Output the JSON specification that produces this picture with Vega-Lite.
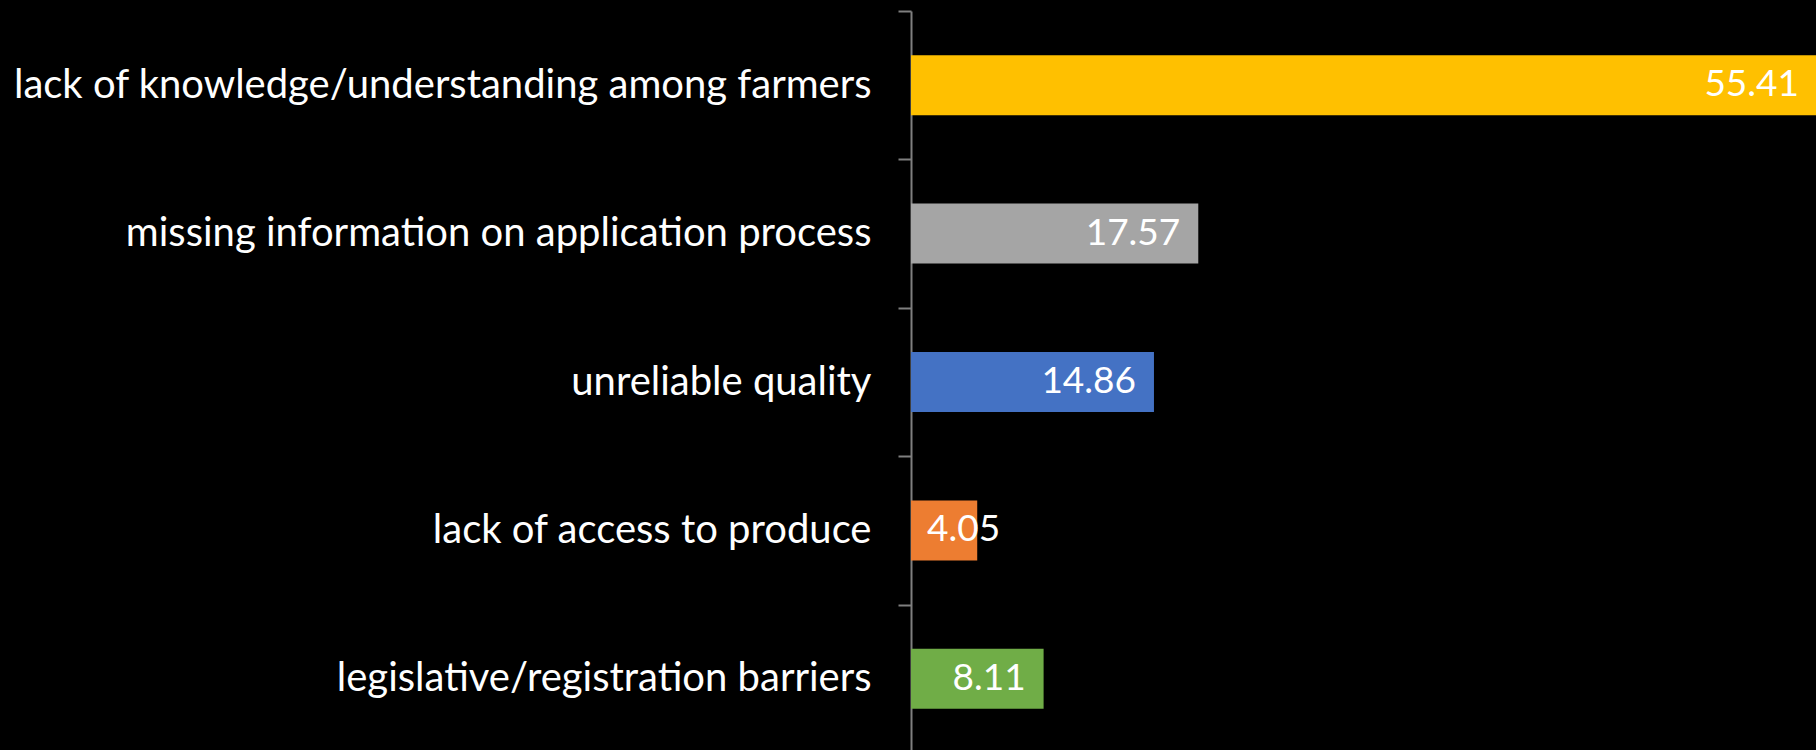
{
  "$schema": "https://vega.github.io/schema/vega-lite/v6.json",
  "width": 905,
  "height": 742,
  "autosize": {"type": "none"},
  "padding": {"left": 911, "top": 11, "right": 0, "bottom": 0},
  "background": "#000000",
  "config": {"view": {"stroke": null}},
  "data": {
    "values": [
      {"reason": "lack of knowledge/understanding among farmers", "value": 55.41, "color": "#FFC000"},
      {"reason": "missing information on application process", "value": 17.57, "color": "#A5A5A5"},
      {"reason": "unreliable quality", "value": 14.86, "color": "#4472C4"},
      {"reason": "lack of access to produce", "value": 4.05, "color": "#ED7D31"},
      {"reason": "legislative/registration barriers", "value": 8.11, "color": "#70AD47"}
    ]
  },
  "encoding": {
    "y": {
      "field": "reason",
      "type": "nominal",
      "sort": null,
      "scale": {"paddingInner": 0, "paddingOuter": 0},
      "axis": {
        "title": null,
        "tickBand": "extent",
        "tickSize": 13,
        "tickColor": "#7f7f7f",
        "tickWidth": 2,
        "domainColor": "#7f7f7f",
        "domainWidth": 2,
        "labelColor": "#ffffff",
        "labelFont": "Lato",
        "labelFontSize": 40,
        "labelPadding": 27,
        "labelLimit": 1000
      }
    },
    "x": {
      "field": "value",
      "type": "quantitative",
      "scale": {"domain": [0, 55.35], "nice": false},
      "axis": null
    }
  },
  "layer": [
    {
      "mark": {"type": "bar", "height": {"band": 0.404}},
      "encoding": {"color": {"field": "color", "type": "nominal", "scale": null}}
    },
    {
      "transform": [{"filter": "datum.value >= 5"}],
      "mark": {"type": "text", "align": "right", "baseline": "middle", "dx": -18, "font": "Lato", "fontSize": 37, "color": "#ffffff"},
      "encoding": {"text": {"field": "value", "type": "quantitative", "format": ".2f"}}
    },
    {
      "transform": [{"filter": "datum.value < 5"}],
      "mark": {"type": "text", "align": "left", "baseline": "middle", "dx": 16, "font": "Lato", "fontSize": 37, "color": "#ffffff"},
      "encoding": {
        "x": {"datum": 0, "type": "quantitative"},
        "text": {"field": "value", "type": "quantitative", "format": ".2f"}
      }
    }
  ]
}
